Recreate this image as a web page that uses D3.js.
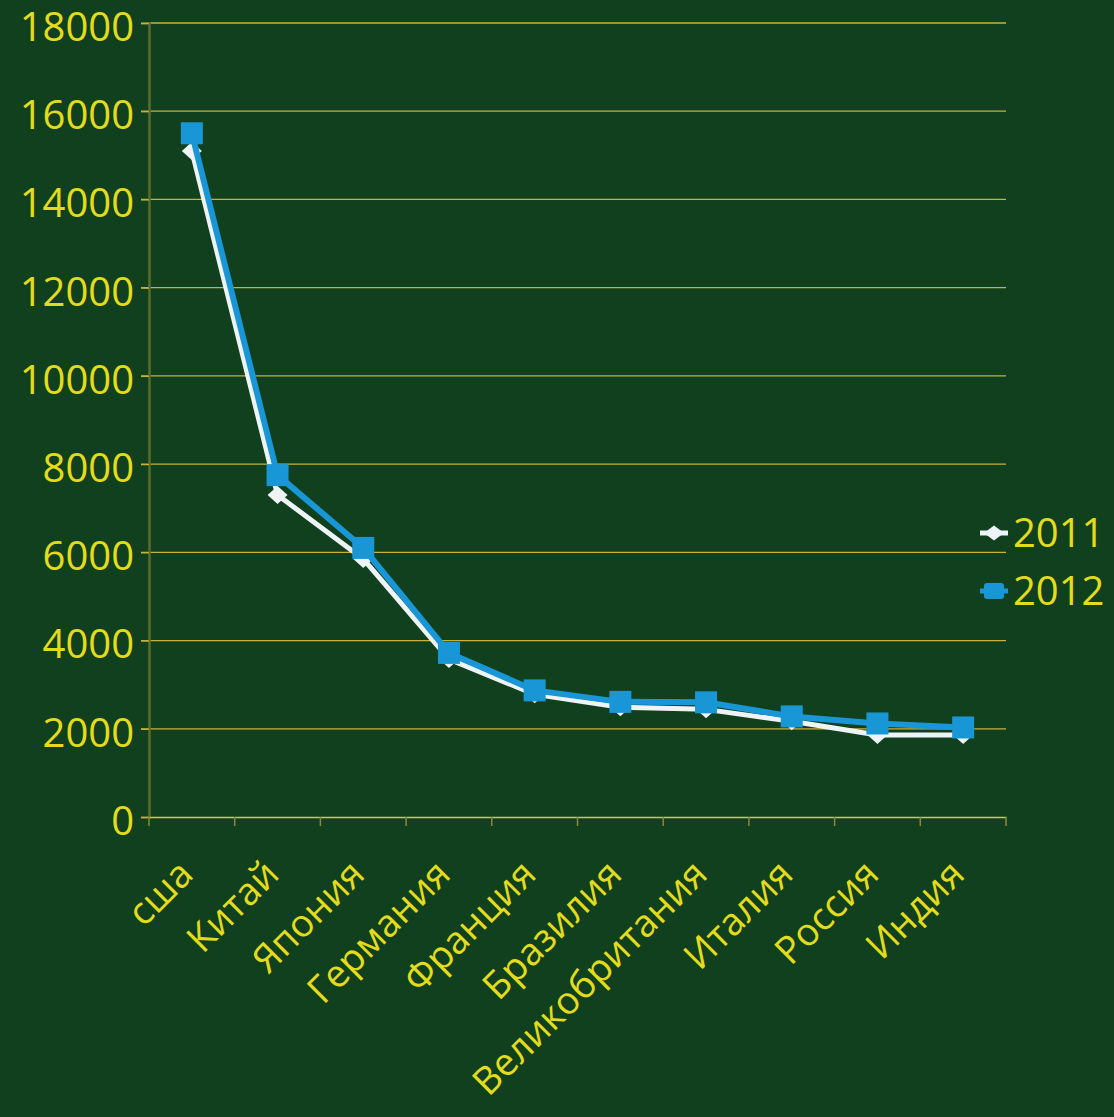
<!DOCTYPE html>
<html><head><meta charset="utf-8">
<script src="https://cdn.jsdelivr.net/npm/d3@7/dist/d3.min.js"></script>
<style>html,body{margin:0;padding:0;background:#11401f;}svg{display:block;}</style>
</head><body>
<svg id="c" width="1114" height="1117"></svg>
<script>
const categories = ["сша","Китай","Япония","Германия","Франция","Бразилия","Великобритания","Италия","Россия","Индия"];
const values2011 = [15100,7300,5850,3580,2780,2490,2440,2170,1860,1860];
const values2012 = [15500,7750,6100,3720,2870,2610,2600,2280,2120,2030];
const yTicks = [0,2000,4000,6000,8000,10000,12000,14000,16000,18000];
const seriesNames = ["2011","2012"];

const svg = d3.select("#c");
const W = 1114, H = 1117;
svg.append("rect").attr("width",W).attr("height",H).attr("fill","#11401f");
const m = {left:149, right:1006, top:23, bottom:817};
const font = "'Open Sans', sans-serif";
const yellow = "#e3dc1c";

const x = d3.scaleBand().domain(categories).range([m.left,m.right]).padding(0);
const y = d3.scaleLinear().domain([0,18000]).range([m.bottom,m.top]);

// gridlines
svg.append("g").selectAll("line").data(yTicks.filter(d=>d>0)).join("line")
  .attr("x1",m.left-8).attr("x2",m.right).attr("y1",d=>y(d)).attr("y2",d=>y(d))
  .attr("stroke","#c8b23a").attr("stroke-width",1.3);

// y axis
const ya = svg.append("g").attr("transform",`translate(${m.left},0)`)
  .call(d3.axisLeft(y).tickValues(yTicks).tickSize(8).tickPadding(14).tickFormat(d3.format("d")));
ya.select(".domain").attr("stroke","#5d6b2a").attr("stroke-width",2.5);
ya.selectAll(".tick line").attr("stroke","#c8b23a").attr("stroke-width",1.3);
ya.selectAll(".tick text").attr("fill",yellow).attr("font-family",font).attr("font-size",40)
  .attr("text-anchor","end").attr("x",0).attr("dy","0.36em").attr("transform","translate(-15,3)");

// x axis
const xa = svg.append("g").attr("transform",`translate(0,${m.bottom})`)
  .call(d3.axisBottom(x).tickSize(0).tickFormat(""));
xa.select(".domain").attr("stroke","#d8c83a").attr("stroke-width",1.5);
const bounds = categories.map(c=>x(c)).concat([m.right]);
xa.append("g").selectAll("line").data(bounds).join("line")
  .attr("x1",d=>d).attr("x2",d=>d).attr("y1",0).attr("y2",9)
  .attr("stroke","#8a8a30").attr("stroke-width",1.5);
xa.append("g").selectAll("text").data(categories).join("text")
  .attr("transform",d=>`translate(${x(d)+x.bandwidth()/2-6},${50}) rotate(-45)`)
  .attr("text-anchor","end").attr("dy","0.35em")
  .attr("fill",yellow).attr("font-family",font).attr("font-size",38)
  .text(d=>d);

const cx = d => x(d)+x.bandwidth()/2;
const line = d3.line().x(d=>cx(d.c)).y(d=>y(d.v));
const s2011 = categories.map((c,i)=>({c,v:values2011[i]}));
const s2012 = categories.map((c,i)=>({c,v:values2012[i]}));
const diamond = (w,h) => `M0,${-h/2}L${w/2},0L0,${h/2}L${-w/2},0Z`;

const white = "#eef3f6", blue = "#1996d6";
svg.append("path").datum(s2011).attr("d",line).attr("fill","none").attr("stroke",white).attr("stroke-width",5).attr("stroke-linejoin","round");
svg.append("g").selectAll("path").data(s2011).join("path")
  .attr("d",diamond(20,18))
  .attr("transform",d=>`translate(${cx(d.c)},${y(d.v)})`).attr("fill",white);
svg.append("path").datum(s2012).attr("d",line).attr("fill","none").attr("stroke",blue).attr("stroke-width",6).attr("stroke-linejoin","round");
svg.append("g").selectAll("rect").data(s2012).join("rect")
  .attr("x",d=>cx(d.c)-11).attr("y",d=>y(d.v)-11).attr("width",22).attr("height",22).attr("fill",blue);

// legend
const lg = svg.append("g");
const items = [{n:seriesNames[0],col:white,ym:533},{n:seriesNames[1],col:blue,ym:591}];
items.forEach((it,i)=>{
  lg.append("line").attr("x1",980).attr("x2",1008).attr("y1",it.ym).attr("y2",it.ym).attr("stroke",it.col).attr("stroke-width",5);
  if(i===0) lg.append("path").attr("d",diamond(20,15)).attr("transform",`translate(994,${it.ym})`).attr("fill",it.col);
  else lg.append("rect").attr("x",984).attr("y",it.ym-8).attr("width",20).attr("height",16).attr("rx",3).attr("fill",it.col);
  lg.append("text").attr("x",1013).attr("y",it.ym).attr("dy","0.36em").attr("fill",yellow)
    .attr("font-family",font).attr("font-size",40).text(it.n);
});
</script>
</body></html>
